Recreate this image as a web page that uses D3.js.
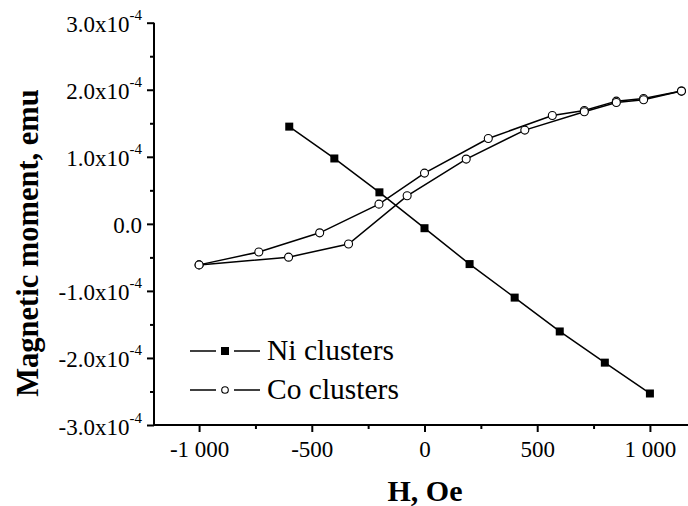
<!DOCTYPE html>
<html>
<head>
<meta charset="utf-8">
<script src="https://cdn.jsdelivr.net/npm/d3@7"></script>
<style>
  body { margin: 0; background: #fff; }
  svg { display: block; font-family: "Liberation Serif", "Times New Roman", serif; }
  svg text { font-family: "Liberation Serif", "Times New Roman", serif; }
</style>
</head>
<body>
<div id="chart"></div>
<script>
// Ni clusters (H in Oe, moment in 1e-4 emu)
const niH = [-600, -400, -200, 0, 200, 400, 600, 800, 1000];
const niM = [1.45, 0.975, 0.47, -0.065, -0.60, -1.10, -1.605, -2.07, -2.53];

// Co clusters, upper branch
const coUpH = [-1000, -735, -465, -202, 0, 283, 567, 709, 851, 972, 1140];
const coUpM = [-0.612, -0.42, -0.134, 0.294, 0.757, 1.273, 1.616, 1.69, 1.83, 1.87, 1.98];

// Co clusters, lower branch
const coDnH = [-1000, -603, -337, -77, 185, 445, 709, 851, 972, 1140];
const coDnM = [-0.612, -0.497, -0.30, 0.418, 0.966, 1.398, 1.672, 1.81, 1.85, 1.98];

// axis ticks
const xTicks = [-1000, -500, 0, 500, 1000];
const xTickLabels = ["-1 000", "-500", "0", "500", "1 000"];
const xMinor = [-750, -250, 250, 750];
const yTicks = [-3, -2, -1, 0, 1, 2, 3];
const yMinor = [-2.5, -1.5, -0.5, 0.5, 1.5, 2.5];

const legendNames = ["Ni clusters", "Co clusters"];

const W = 688, H = 506;

let svg = d3.select('#chart')
    .append('svg')
    .attr('width', W)
    .attr('height', H);

let x = d3.scaleLinear().domain([-1200, 1200]).range([154, 695]);
let y = d3.scaleLinear().domain([-3, 3]).range([425, 22.7]);

// x axis
let xAxis = svg.append('g')
    .attr('transform', `translate(0, ${y(-3)})`)
    .call(d3.axisBottom(x).tickValues(xTicks).tickSize(7).tickFormat((d, i) => xTickLabels[i]));
svg.append('g')
    .attr('transform', `translate(0, ${y(-3)})`)
    .call(d3.axisBottom(x).tickValues(xMinor).tickSize(4).tickFormat(''))
    .select('.domain').remove();
xAxis.select('.domain').attr('d', `M${x(-1200)},0H${x(1200)}`);
xAxis.selectAll('text')
    .attr('font-size', 23)
    .attr('y', 0).attr('dy', null)
    .attr('transform', 'translate(0, 32)');

// y axis
let yAxis = svg.append('g')
    .attr('transform', `translate(${x(-1200)}, 0)`)
    .call(d3.axisLeft(y).tickValues(yTicks).tickSize(7).tickFormat(''));
svg.append('g')
    .attr('transform', `translate(${x(-1200)}, 0)`)
    .call(d3.axisLeft(y).tickValues(yMinor).tickSize(4).tickFormat(''))
    .select('.domain').remove();
yAxis.select('.domain').attr('d', `M0,${y(-3)}V${y(3)}`);

yAxis.selectAll('.tick').each(function (d) {
    let t = d3.select(this).append('text')
        .attr('fill', '#000')
        .attr('font-size', 23)
        .attr('text-anchor', 'end')
        .attr('x', -12)
        .attr('y', d === 0 ? 8.5 : 9);
    if (d === 0) {
        t.text('0.0');
    } else {
        t.append('tspan').text(d3.format('.1f')(d).replace('−', '-') + 'x10');
        t.append('tspan').attr('font-size', 15).attr('dy', -12).text('-4');
    }
});

svg.selectAll('g').attr('font-family', null);
svg.selectAll('.domain, .tick line').attr('stroke', '#000').attr('stroke-width', 2);

// lines
let line = d3.line().x(d => x(d[0])).y(d => y(d[1]));
let niPts = niH.map((h, i) => [h, niM[i]]);
let coUp = coUpH.map((h, i) => [h, coUpM[i]]);
let coDn = coDnH.map((h, i) => [h, coDnM[i]]);

[coUp, coDn, niPts].forEach(pts => {
    svg.append('path')
        .attr('d', line(pts))
        .attr('fill', 'none')
        .attr('stroke', '#000')
        .attr('stroke-width', 1.5);
});

svg.append('g').selectAll('circle')
    .data(coUp.concat(coDn))
    .enter()
    .append('circle')
    .attr('cx', d => x(d[0]))
    .attr('cy', d => y(d[1]))
    .attr('r', 4)
    .attr('fill', '#fff')
    .attr('stroke', '#000')
    .attr('stroke-width', 1.1);

svg.append('g').selectAll('rect')
    .data(niPts)
    .enter()
    .append('rect')
    .attr('x', d => x(d[0]) - 4)
    .attr('y', d => y(d[1]) - 4)
    .attr('width', 8)
    .attr('height', 8)
    .attr('fill', '#000');

// legend
let legend = svg.append('g');
legendNames.forEach((name, i) => {
    let ly = 351 + i * 39;
    legend.append('line').attr('x1', 190).attr('x2', 216).attr('y1', ly).attr('y2', ly)
        .attr('stroke', '#000').attr('stroke-width', 1.5);
    legend.append('line').attr('x1', 234).attr('x2', 260).attr('y1', ly).attr('y2', ly)
        .attr('stroke', '#000').attr('stroke-width', 1.5);
    if (i === 0) {
        legend.append('rect').attr('x', 221).attr('y', ly - 4).attr('width', 8).attr('height', 8).attr('fill', '#000');
    } else {
        legend.append('circle').attr('cx', 225).attr('cy', ly).attr('r', 3.3)
            .attr('fill', '#fff').attr('stroke', '#000').attr('stroke-width', 1.1);
    }
    legend.append('text')
        .attr('x', 267)
        .attr('y', ly + 8.5)
        .attr('font-size', 29.5)
        .text(name);
});

// axis titles
svg.append('text')
    .attr('x', 425)
    .attr('y', 501)
    .attr('text-anchor', 'middle')
    .attr('font-size', 30)
    .attr('font-weight', 'bold')
    .text('H, Oe');

svg.append('text')
    .attr('transform', 'translate(38, 243) rotate(-90)')
    .attr('text-anchor', 'middle')
    .attr('font-size', 30.5)
    .attr('font-weight', 'bold')
    .text('Magnetic moment, emu');
</script>
</body>
</html>
